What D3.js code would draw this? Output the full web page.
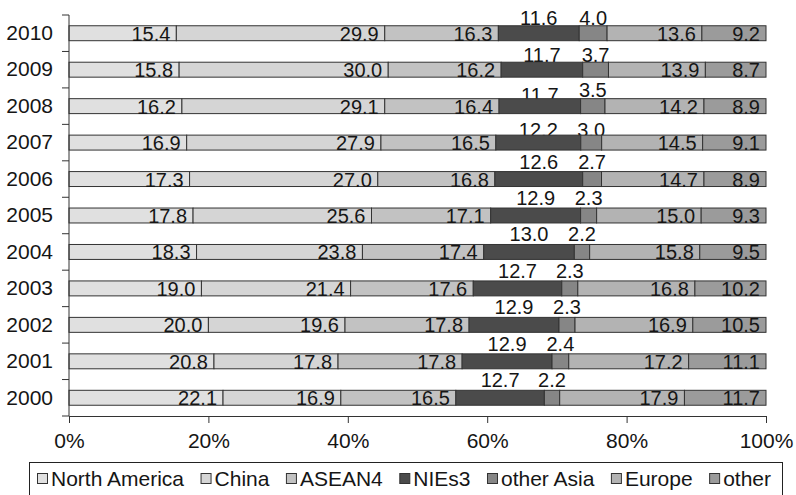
<!DOCTYPE html>
<html>
<head>
<meta charset="utf-8">
<script src="https://cdn.jsdelivr.net/npm/d3@7/dist/d3.min.js"></script>
<style>
  html, body { margin: 0; padding: 0; background: #fff; }
  svg { display: block; font-family: "Liberation Sans", Arial, Helvetica, sans-serif; }
</style>
</head>
<body>
<svg id="chart" width="796" height="495"></svg>
<script>
// Share of exports by destination, 2000–2010 (percent)
const years = ["2010", "2009", "2008", "2007", "2006", "2005", "2004", "2003", "2002", "2001", "2000"];
const regions = ["North America", "China", "ASEAN4", "NIEs3", "other Asia", "Europe", "other"];

const northAmerica = [15.4, 15.8, 16.2, 16.9, 17.3, 17.8, 18.3, 19.0, 20.0, 20.8, 22.1];
const china        = [29.9, 30.0, 29.1, 27.9, 27.0, 25.6, 23.8, 21.4, 19.6, 17.8, 16.9];
const asean4       = [16.3, 16.2, 16.4, 16.5, 16.8, 17.1, 17.4, 17.6, 17.8, 17.8, 16.5];
const nies3        = [11.6, 11.7, 11.7, 12.2, 12.6, 12.9, 13.0, 12.7, 12.9, 12.9, 12.7];
const otherAsia    = [4.0, 3.7, 3.5, 3.0, 2.7, 2.3, 2.2, 2.3, 2.3, 2.4, 2.2];
const europe       = [13.6, 13.9, 14.2, 14.5, 14.7, 15.0, 15.8, 16.8, 16.9, 17.2, 17.9];
const other        = [9.2, 8.7, 8.9, 9.1, 8.9, 9.3, 9.5, 10.2, 10.5, 11.1, 11.7];

const xTicks = [0, 0.2, 0.4, 0.6, 0.8, 1.0];

// Fill for each region, in stacking order
const fills = ["#e0e0e0", "#d5d5d5", "#c2c2c2", "#4b4b4b", "#868686", "#b3b3b3", "#9b9b9b"];
// Regions whose labels sit above the bar rather than inside it
const aboveRegions = new Set(["NIEs3", "other Asia"]);
// Small vertical nudges for a few of the raised labels (pixels, downward)
const aboveNudge = {
  "2010": { "NIEs3": 2, "other Asia": 2 },
  "2009": { "NIEs3": 3, "other Asia": 3 },
  "2008": { "NIEs3": 6, "other Asia": 1 },
  "2007": { "NIEs3": 5, "other Asia": 5 }
};

const seriesValues = [northAmerica, china, asean4, nies3, otherAsia, europe, other];

const rows = years.map((year, i) => {
  const row = { year };
  regions.forEach((r, k) => { row[r] = seriesValues[k][i]; });
  return row;
});

const stacked = d3.stack().keys(regions).offset(d3.stackOffsetExpand)(rows);

const svg = d3.select("#chart");
const plotLeft = 69, plotRight = 766, plotTop = 15, plotBottom = 416;

const x = d3.scaleLinear().domain([0, 1]).range([plotLeft, plotRight]);
const y = d3.scaleBand().domain(years).range([plotTop, plotBottom])
  .paddingInner(0.59).paddingOuter(0.295);
const color = d3.scaleOrdinal().domain(regions).range(fills);

const textColor = "#151515";
const fontSize = 20;
const axisFontSize = 21;

// Raised labels go underneath the bars so a bar can cover their lower edge
const aboveLayer = svg.append("g");
const barLayer = svg.append("g");
const insideLayer = svg.append("g");

stacked.forEach(layer => {
  const key = layer.key;
  barLayer.append("g").selectAll("rect")
    .data(layer)
    .join("rect")
    .attr("x", d => x(d[0]))
    .attr("y", d => y(d.data.year))
    .attr("width", d => x(d[1]) - x(d[0]))
    .attr("height", y.bandwidth())
    .attr("fill", color(key))
    .attr("stroke", "#333")
    .attr("stroke-width", 1);

  if (aboveRegions.has(key)) {
    aboveLayer.append("g").selectAll("text")
      .data(layer)
      .join("text")
      .attr("x", d => (x(d[0]) + x(d[1])) / 2)
      .attr("y", d => {
        const n = (aboveNudge[d.data.year] || {})[key] || 0;
        return y(d.data.year) - 3 + n;
      })
      .attr("text-anchor", "middle")
      .attr("font-size", fontSize)
      .attr("fill", textColor)
      .text(d => d.data[key].toFixed(1));
  } else {
    insideLayer.append("g").selectAll("text")
      .data(layer)
      .join("text")
      .attr("x", d => x(d[1]) - 6)
      .attr("y", d => y(d.data.year) + y.bandwidth())
      .attr("text-anchor", "end")
      .attr("font-size", fontSize)
      .attr("fill", textColor)
      .text(d => d.data[key].toFixed(1));
  }
});

// Category axis: year labels, with ticks on the band boundaries
const yAxis = svg.append("g")
  .attr("transform", `translate(${plotLeft},0)`)
  .call(d3.axisLeft(y).tickSize(0).tickPadding(16));
yAxis.attr("font-family", null).attr("font-size", null);
yAxis.select(".domain").remove();
yAxis.selectAll("text").attr("font-size", axisFontSize).attr("fill", textColor);

const boundaries = years.map(yr => y(yr) - y.step() * y.paddingOuter()).concat([plotBottom]);
svg.append("g").selectAll("line")
  .data(boundaries)
  .join("line")
  .attr("x1", plotLeft - 7).attr("x2", plotLeft)
  .attr("y1", d => d).attr("y2", d => d)
  .attr("stroke", "#333");
svg.append("line")
  .attr("x1", plotLeft).attr("x2", plotLeft)
  .attr("y1", plotTop).attr("y2", plotBottom)
  .attr("stroke", "#333");

// Percentage axis
const xAxis = svg.append("g")
  .attr("transform", `translate(0,${plotBottom})`)
  .call(d3.axisBottom(x).tickValues(xTicks).tickFormat(d3.format(".0%"))
    .tickSize(7).tickSizeOuter(0).tickPadding(10));
xAxis.attr("font-family", null).attr("font-size", null);
xAxis.select(".domain").attr("stroke", "#333");
xAxis.selectAll(".tick line").attr("stroke", "#333");
xAxis.selectAll("text").attr("font-size", axisFontSize).attr("fill", textColor);

// Legend: items spread evenly across the framed strip
const legend = svg.append("g");
legend.append("rect")
  .attr("x", 29.5).attr("y", 462.5)
  .attr("width", 753).attr("height", 50)
  .attr("fill", "none").attr("stroke", "#222");

const legendStart = 37, legendEnd = 771, swatch = 10, swatchGap = 4;
const items = regions.map((r, k) => {
  const g = legend.append("g");
  g.append("rect")
    .attr("x", 0.5).attr("y", 473.5)
    .attr("width", swatch).attr("height", swatch)
    .attr("fill", fills[k]).attr("stroke", "#333");
  const t = g.append("text")
    .attr("x", swatch + swatchGap).attr("y", 486)
    .attr("font-size", 21)
    .attr("fill", textColor)
    .text(r);
  return { g, w: swatch + swatchGap + t.node().getComputedTextLength() };
});
const totalW = d3.sum(items, d => d.w);
const itemGap = (legendEnd - legendStart - totalW) / (items.length - 1);
let lx = legendStart;
items.forEach(it => {
  it.g.attr("transform", `translate(${lx},0)`);
  lx += it.w + itemGap;
});
</script>
</body>
</html>
